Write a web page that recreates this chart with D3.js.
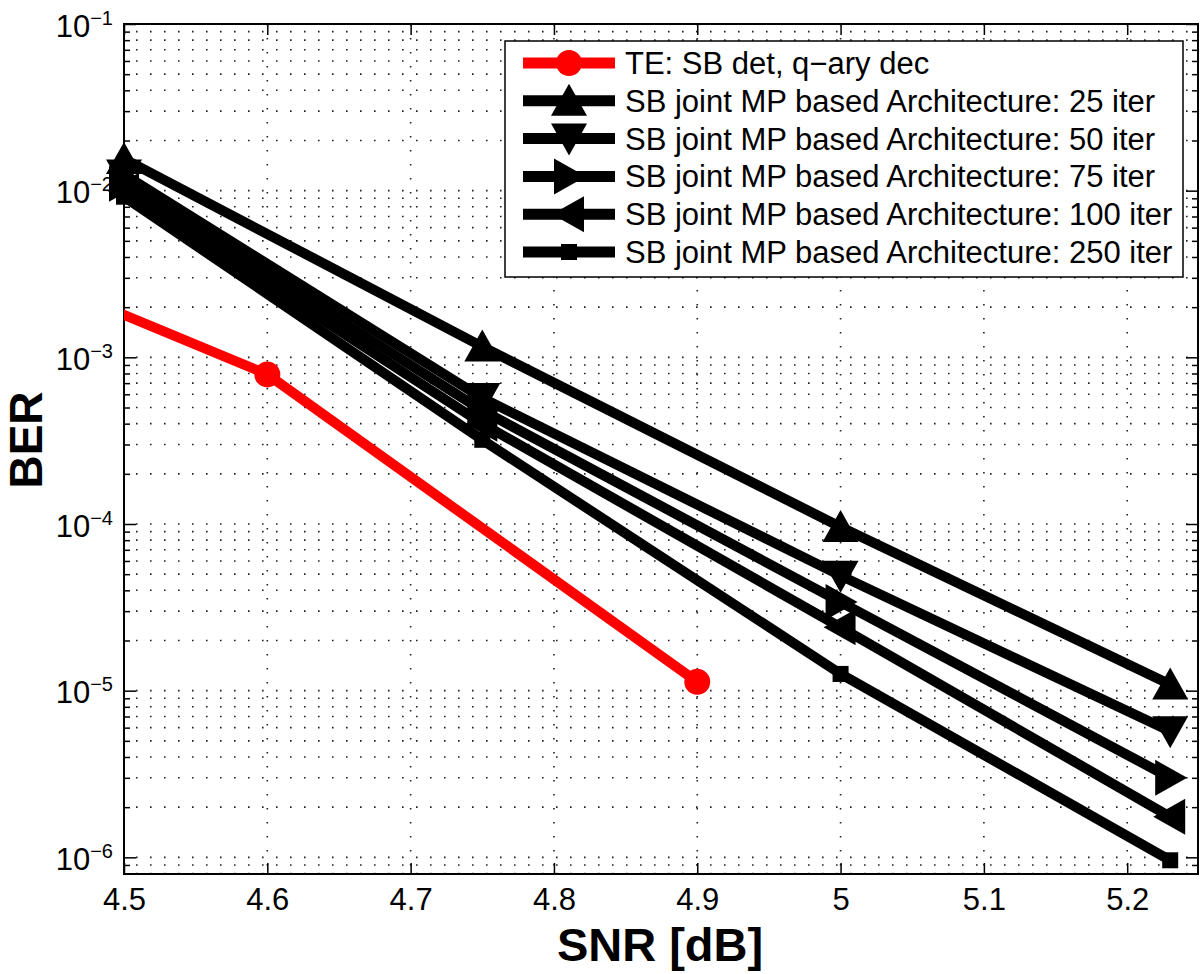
<!DOCTYPE html>
<html>
<head>
<meta charset="utf-8">
<script src="https://cdn.jsdelivr.net/npm/d3@7"></script>
<style>
  body { margin: 0; background: #fff; }
  svg text { font-family: "Liberation Sans", Arial, Helvetica, sans-serif; fill: #000; }
</style>
</head>
<body>
<script>
const w = 1200;
const h = 974;

// data
const xTicks = [4.5, 4.6, 4.7, 4.8, 4.9, 5.0, 5.1, 5.2];
const yExps = [-1, -2, -3, -4, -5, -6];

// first TE point lies left of the visible range (clipped)
const snrTE = [4.4, 4.6, 4.9];
const berTE = [4.1e-3, 7.9e-4, 1.13e-5];

const snrMP = [4.5, 4.75, 5.0, 5.23];
const ber25 = [1.55e-2, 1.16e-3, 9.6e-5, 1.09e-5];
const ber50 = [1.25e-2, 5.7e-4, 4.9e-5, 5.7e-6];
const ber75 = [1.1e-2, 4.8e-4, 3.4e-5, 3.0e-6];
const ber100 = [1.0e-2, 4.0e-4, 2.4e-5, 1.75e-6];
const ber250 = [0.92e-2, 3.2e-4, 1.26e-5, 9.6e-7];

const labels = [
  "TE: SB det, q\u2212ary dec",
  "SB joint MP based Architecture: 25 iter",
  "SB joint MP based Architecture: 50 iter",
  "SB joint MP based Architecture: 75 iter",
  "SB joint MP based Architecture: 100 iter",
  "SB joint MP based Architecture: 250 iter"
];

const series = [
  { x: snrTE, y: berTE, color: "#ff0000", marker: "circle" },
  { x: snrMP, y: ber25, color: "#000", marker: "up" },
  { x: snrMP, y: ber50, color: "#000", marker: "down" },
  { x: snrMP, y: ber75, color: "#000", marker: "right" },
  { x: snrMP, y: ber100, color: "#000", marker: "left" },
  { x: snrMP, y: ber250, color: "#000", marker: "square" }
];

const pLeft = 124, pRight = 1198, pTop = 24, pBottom = 874;

const svg = d3.select("body").append("svg").attr("width", w).attr("height", h);

svg.append("clipPath").attr("id", "plotclip").append("rect")
  .attr("x", pLeft).attr("y", pTop).attr("width", pRight - pLeft).attr("height", pBottom - pTop);

// scales
const xScale = d3.scaleLinear().domain([4.5, 5.2494]).range([pLeft, pRight]);
const yScale = d3.scaleLog().domain([Math.pow(10, -6.1), 0.1]).range([pBottom, pTop]);

// minor log ticks
const yMinor = [];
for (let e = -7; e <= -2; e++) {
  for (let k = 2; k <= 9; k++) {
    const v = k * Math.pow(10, e);
    if (v >= yScale.domain()[0] && v <= 0.1) yMinor.push(v);
  }
}
const yMajor = yExps.map((e) => Math.pow(10, e));

// grid
const grid = svg.append("g").attr("stroke", "#222").attr("stroke-width", 1.6)
  .attr("stroke-dasharray", "1.6,12.4");
grid.selectAll("line.hg").data(yMajor.concat(yMinor)).enter().append("line")
  .attr("x1", pLeft + 12).attr("x2", pRight)
  .attr("y1", (d) => yScale(d)).attr("y2", (d) => yScale(d));
grid.selectAll("line.vg").data(xTicks.slice(1)).enter().append("line")
  .attr("x1", (d) => xScale(d)).attr("x2", (d) => xScale(d))
  .attr("y1", pTop).attr("y2", pBottom);

// axes (ticks inward)
const xAxis = d3.axisBottom(xScale).tickValues(xTicks).tickSizeInner(-11).tickSizeOuter(0)
  .tickFormat((d) => (d === 5 ? "5" : d3.format(".1f")(d)));
const gx = svg.append("g").attr("transform", "translate(0," + pBottom + ")").call(xAxis);
gx.selectAll("text").attr("font-size", 31).attr("dy", 0).attr("y", 36);

svg.append("g").attr("transform", "translate(0," + pTop + ")")
  .call(d3.axisTop(xScale).tickValues(xTicks).tickSizeInner(-11).tickSizeOuter(0).tickFormat(""));

const gy = svg.append("g").attr("transform", "translate(" + pLeft + ",0)")
  .call(d3.axisLeft(yScale).tickValues(yMajor).tickSizeInner(-12).tickSizeOuter(0).tickFormat(""));
svg.append("g").attr("transform", "translate(" + pLeft + ",0)")
  .call(d3.axisLeft(yScale).tickValues(yMinor).tickSizeInner(-6).tickSizeOuter(0).tickFormat(""));
svg.append("g").attr("transform", "translate(" + pRight + ",0)")
  .call(d3.axisRight(yScale).tickValues(yMajor).tickSizeInner(-12).tickSizeOuter(0).tickFormat(""));
svg.append("g").attr("transform", "translate(" + pRight + ",0)")
  .call(d3.axisRight(yScale).tickValues(yMinor).tickSizeInner(-6).tickSizeOuter(0).tickFormat(""));

svg.selectAll(".domain").remove();
svg.selectAll(".tick line").attr("stroke", "#000").attr("stroke-width", 1.5);

// y tick labels 10^e
const yl = gy.selectAll(".tick").append("text")
  .attr("x", -11).attr("y", 12).attr("text-anchor", "end").attr("font-size", 31);
yl.append("tspan").text("10");
yl.append("tspan").attr("font-size", 20).attr("dy", -12)
  .text((d) => "\u2212" + Math.round(-Math.log10(d)));

// frame
svg.append("rect").attr("x", pLeft).attr("y", pTop).attr("width", pRight - pLeft).attr("height", pBottom - pTop)
  .attr("fill", "none").attr("stroke", "#000").attr("stroke-width", 2);

// markers
function drawMarker(g, type, color) {
  if (type === "circle") {
    g.append("circle").attr("r", 13).attr("fill", color);
  } else if (type === "square") {
    g.append("rect").attr("x", -8).attr("y", -8).attr("width", 16).attr("height", 16).attr("fill", color);
  } else {
    const pts = { up: "0,-17 18,15 -18,15", down: "0,17 18,-15 -18,-15",
      right: "17,0 -15,18 -15,-18", left: "-17,0 15,18 15,-18" }[type];
    g.append("polygon").attr("points", pts).attr("fill", color);
  }
}

const line = d3.line().x((d) => xScale(d[0])).y((d) => yScale(d[1]));
const xDom = xScale.domain();

series.forEach((s) => {
  const pts = s.x.map((x, i) => [x, s.y[i]]);
  svg.append("path").datum(pts).attr("d", line).attr("fill", "none")
    .attr("clip-path", "url(#plotclip)")
    .attr("stroke", s.color).attr("stroke-width", 10).attr("stroke-linejoin", "round");
  pts.filter((p) => p[0] >= xDom[0] - 1e-9 && p[0] <= xDom[1]).forEach((p) => {
    const g = svg.append("g").attr("transform", "translate(" + xScale(p[0]) + "," + yScale(p[1]) + ")");
    drawMarker(g, s.marker, s.color);
  });
});

// legend
const lg = svg.append("g");
lg.append("rect").attr("x", 505).attr("y", 41).attr("width", 678).attr("height", 236)
  .attr("fill", "#fff").attr("stroke", "#000").attr("stroke-width", 1.5);
series.forEach((s, i) => {
  const cy = 63 + i * 37.8;
  lg.append("line").attr("x1", 523).attr("x2", 615).attr("y1", cy).attr("y2", cy)
    .attr("stroke", s.color).attr("stroke-width", 11);
  drawMarker(lg.append("g").attr("transform", "translate(569," + cy + ")"), s.marker, s.color);
  lg.append("text").attr("x", 625).attr("y", cy + 11).attr("font-size", 31).text(labels[i]);
});

// axis titles
svg.append("text").attr("x", 660).attr("y", 961).attr("text-anchor", "middle")
  .attr("font-size", 47).attr("font-weight", "bold").text("SNR [dB]");
svg.append("text").attr("transform", "translate(42,440) rotate(-90)").attr("text-anchor", "middle")
  .attr("font-size", 46).attr("font-weight", "bold").text("BER");
</script>
</body>
</html>
